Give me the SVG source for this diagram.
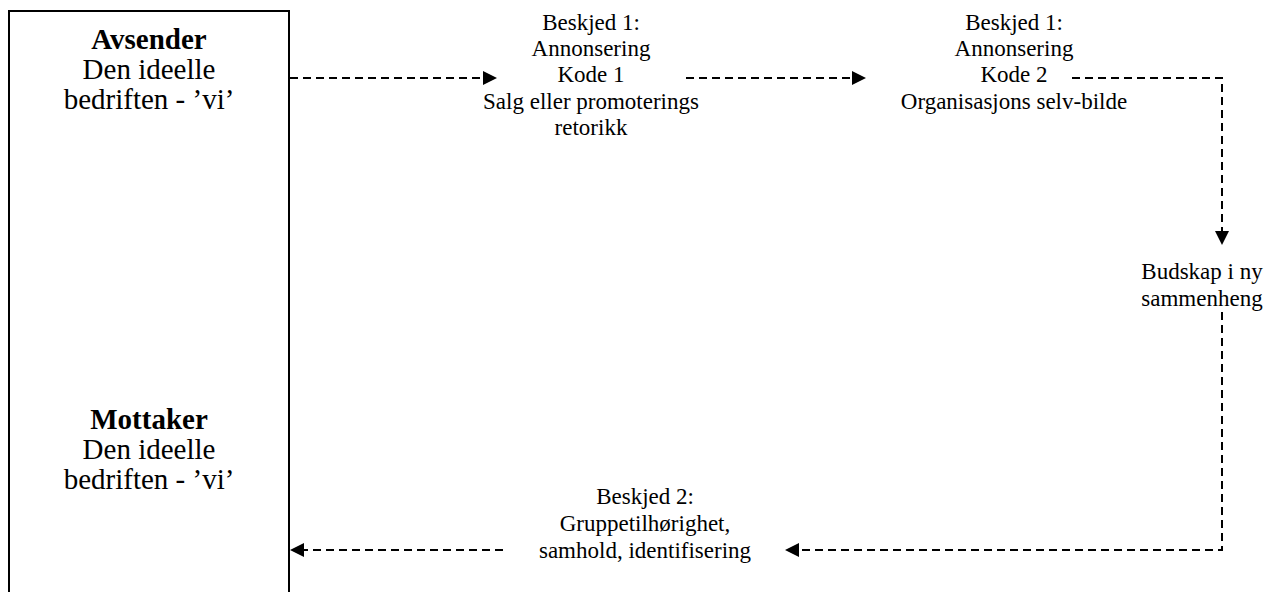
<svg xmlns="http://www.w3.org/2000/svg" width="1284" height="592" viewBox="0 0 1284 592">
  <style>
    .box { fill: none; stroke: #000; stroke-width: 2; }
    .t { font-family: "Liberation Serif", "Times New Roman", serif; fill: #000; text-anchor: middle; }
    .big { font-size: 29px; }
    .small { font-size: 23px; }
    .b { font-weight: bold; }
    .flow { fill: none; stroke: #000; stroke-width: 2; stroke-dasharray: 8 5; }
  </style>
  <defs>
    <marker id="head" markerUnits="userSpaceOnUse" markerWidth="15" markerHeight="15" refX="0" refY="7" orient="auto">
      <path d="M0,0 L14,7 L0,14 Z" fill="#000"/>
    </marker>
  </defs>
  <rect width="1284" height="592" fill="#fff"/>

  <!-- sender / receiver column -->
  <g id="party">
    <rect class="box" x="9" y="11" width="280" height="620"/>
  </g>
  <g id="sender">
    <text class="t big b" x="149" y="49">Avsender</text>
    <text class="t big" x="149" y="79">Den ideelle</text>
    <text class="t big" x="149" y="109">bedriften - ’vi’</text>
  </g>
  <g id="receiver">
    <text class="t big b" x="149" y="429">Mottaker</text>
    <text class="t big" x="149" y="459">Den ideelle</text>
    <text class="t big" x="149" y="489">bedriften - ’vi’</text>
  </g>

  <!-- message stages -->
  <g id="msg1-code1">
    <text class="t small" x="591" y="30">Beskjed 1:</text>
    <text class="t small" x="591" y="56">Annonsering</text>
    <text class="t small" x="591" y="82">Kode 1</text>
    <text class="t small" x="591" y="109">Salg eller promoterings</text>
    <text class="t small" x="591" y="135">retorikk</text>
  </g>
  <g id="msg1-code2">
    <text class="t small" x="1014" y="30">Beskjed 1:</text>
    <text class="t small" x="1014" y="56">Annonsering</text>
    <text class="t small" x="1014" y="82">Kode 2</text>
    <text class="t small" x="1014" y="109">Organisasjons selv-bilde</text>
  </g>
  <g id="new-context">
    <text class="t small" x="1202" y="279">Budskap i ny</text>
    <text class="t small" x="1202" y="306">sammenheng</text>
  </g>
  <g id="msg2">
    <text class="t small" x="645" y="504">Beskjed 2:</text>
    <text class="t small" x="645" y="531">Gruppetilhørighet,</text>
    <text class="t small" x="645" y="558">samhold, identifisering</text>
  </g>

  <!-- dashed flow connectors -->
  <g id="connectors">
    <path class="flow" d="M290 78 H483" marker-end="url(#head)"/>
    <path class="flow" d="M686 78 H852" marker-end="url(#head)"/>
    <path class="flow" d="M1072 78 H1222 V231" marker-end="url(#head)"/>
    <path class="flow" d="M1222 312 V550 H799" marker-end="url(#head)"/>
    <path class="flow" d="M503 550 H304" marker-end="url(#head)"/>
  </g>
</svg>
